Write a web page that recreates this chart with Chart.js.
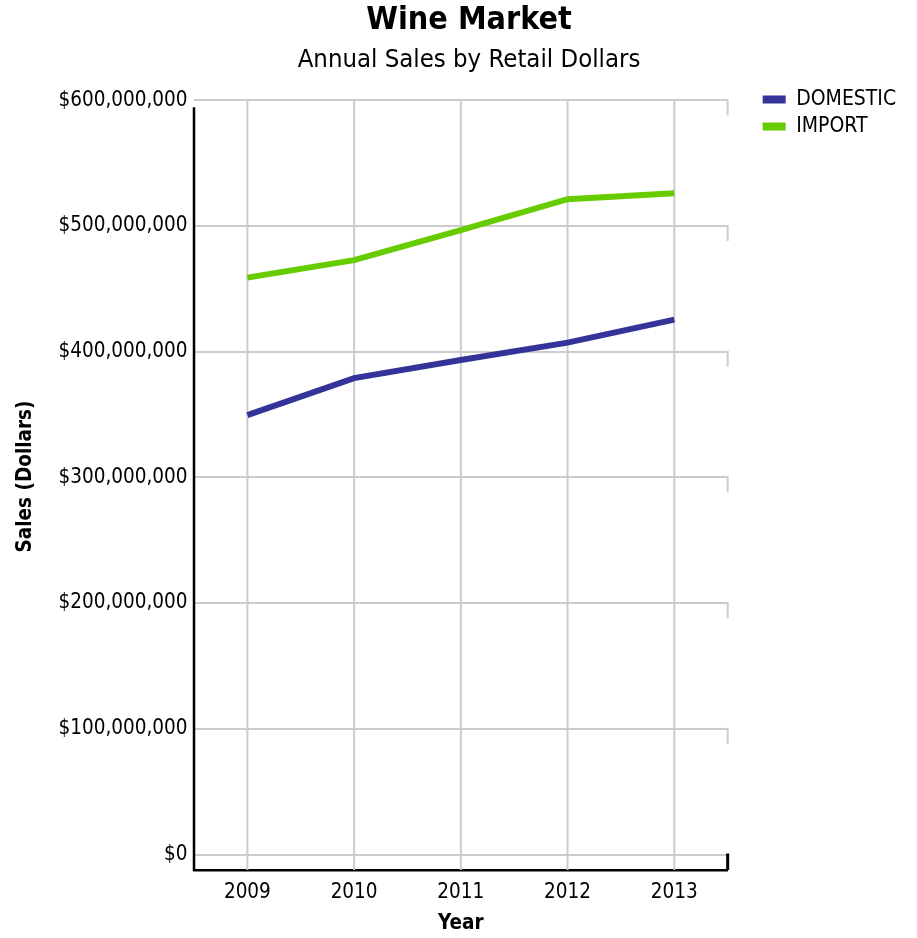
<!DOCTYPE html>
<html>
<head>
<meta charset="utf-8">
<title>Wine Market</title>
<script src="https://cdn.jsdelivr.net/npm/chart.js@4.4.1/dist/chart.umd.min.js"></script>
<style>
  html, body { margin: 0; padding: 0; background: #fff; overflow: hidden; }
  #wrap { width: 938px; height: 938px; }
</style>
</head>
<body>
<div id="wrap"><canvas id="wineChart"></canvas></div>
<script>
const years = ['2009', '2010', '2011', '2012', '2013'];
const domestic = [349600000, 379000000, 393400000, 407200000, 425500000];
const imports = [458900000, 472800000, 496800000, 521300000, 526100000];
const seriesNames = ['DOMESTIC', 'IMPORT'];
const seriesColors = ['#333399', '#66cc00'];
const yTicks = [0, 100000000, 200000000, 300000000, 400000000, 500000000, 600000000];

Chart.defaults.font.family = "'DejaVu Sans Condensed', 'DejaVu Sans', sans-serif";
Chart.defaults.color = '#000';

function dollars(value) {
    return '$' + Math.round(value).toLocaleString('en-US');
}

// grid bits that Chart.js does not draw by itself
const frameLines = {
    id: 'frameLines',
    beforeDatasetsDraw(chart) {
        const { ctx, chartArea, scales } = chart;
        const x = scales.x, y = scales.y;
        const topY = y.getPixelForValue(yTicks[yTicks.length - 1]);
        ctx.save();
        ctx.lineCap = 'butt';
        ctx.strokeStyle = '#cccccc';
        ctx.lineWidth = 2;
        x.ticks.forEach((t, i) => {
            const px = x.getPixelForTick(i);
            ctx.beginPath(); ctx.moveTo(px, topY - 1); ctx.lineTo(px, chartArea.bottom); ctx.stroke();
        });
        // short drops at the right end of every horizontal line
        y.ticks.forEach(t => {
            const py = y.getPixelForValue(t.value);
            const zero = t.value === 0;
            ctx.strokeStyle = zero ? '#000' : '#cccccc';
            ctx.lineWidth = zero ? 3 : 2;
            ctx.beginPath(); ctx.moveTo(chartArea.right, py - 1);
            ctx.lineTo(chartArea.right, zero ? chartArea.bottom : py + 15); ctx.stroke();
        });
        // left axis line
        ctx.strokeStyle = '#000';
        ctx.lineWidth = 2.5;
        ctx.beginPath(); ctx.moveTo(chartArea.left, topY + 7); ctx.lineTo(chartArea.left, chartArea.bottom + 1); ctx.stroke();
        ctx.restore();
    }
};

new Chart(document.getElementById('wineChart'), {
    type: 'line',
    data: {
        labels: years,
        datasets: [{
            label: seriesNames[0],
            data: domestic,
            borderColor: seriesColors[0],
            backgroundColor: seriesColors[0],
            yAxisID: 'y'
        }, {
            label: seriesNames[1],
            data: imports,
            borderColor: seriesColors[1],
            backgroundColor: seriesColors[1],
            yAxisID: 'y'
        }]
    },
    options: {
        responsive: true,
        maintainAspectRatio: false,
        animation: false,
        layout: { padding: { left: 37.5, right: 37.5, top: 0, bottom: 0 } },
        elements: {
            line: { borderWidth: 6, tension: 0 },
            point: { radius: 0, hoverRadius: 0 }
        },
        plugins: {
            title: {
                display: true,
                text: 'Wine Market',
                font: { size: 32, weight: 'bold' },
                padding: { top: 1, bottom: 0 }
            },
            subtitle: {
                display: true,
                text: 'Annual Sales by Retail Dollars',
                font: { size: 25.5 },
                padding: { top: 5.3, bottom: 7.7 }
            },
            legend: {
                position: 'right',
                align: 'start',
                fullSize: false,
                labels: {
                    boxWidth: 23,
                    boxHeight: 8,
                    padding: 6,
                    font: { size: 21 },
                    generateLabels: chart => Chart.defaults.plugins.legend.labels.generateLabels(chart)
                        .map(item => Object.assign(item, { lineWidth: 0 }))
                }
            },
            tooltip: { enabled: false }
        },
        scales: {
            x: {
                offset: true,
                grid: { display: false, drawTicks: false },
                border: { display: true, color: '#000', width: 2.5 },
                ticks: { padding: 10.7, font: { size: 20.5 } },
                title: {
                    display: true,
                    text: 'Year',
                    font: { size: 20.5, weight: 'bold' },
                    padding: { top: -4.3, bottom: 1.7 }
                }
            },
            y: {
                min: -12330000,
                max: 613760000,
                ticks: {
                    padding: 6.5,
                    font: { size: 20.5 },
                    callback: v => dollars(v)
                },
                afterBuildTicks: axis => {
                    axis.ticks = yTicks.map(v => ({ value: v }));
                },
                afterFit: s => { s.width = 156.5; },
                grid: { color: '#cccccc', lineWidth: 2, drawTicks: false },
                border: { display: false },
                title: {
                    display: true,
                    text: 'Sales (Dollars)',
                    font: { size: 20.5, weight: 'bold' },
                    padding: { top: -24.3, bottom: 24.5 }
                }
            },
            gap: {
                axis: 'y',
                position: 'right',
                display: true,
                grid: { display: false },
                border: { display: false },
                ticks: { display: false },
                afterFit: s => { s.width = 29; }
            }
        }
    },
    plugins: [frameLines]
});
</script>
</body>
</html>
